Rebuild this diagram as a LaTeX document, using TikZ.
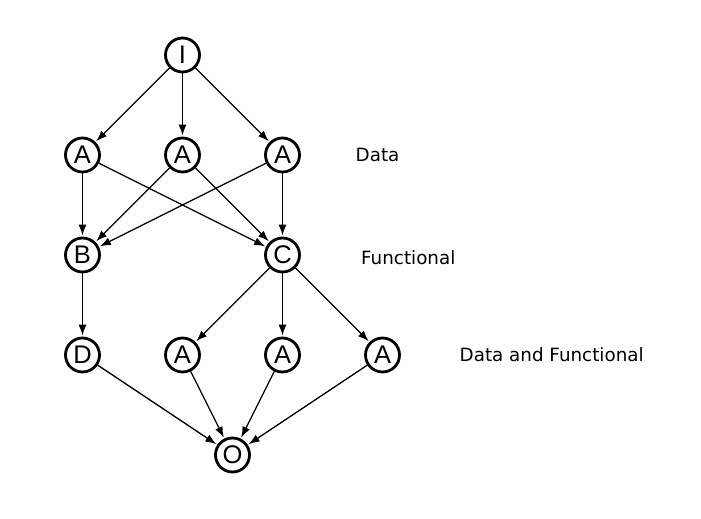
\documentclass[tikz,border=0pt]{standalone}
\usepackage{fontspec}
\setmainfont{DejaVu Sans}
\newfontfamily\nodefont{Liberation Sans}
\usetikzlibrary{arrows.meta}
\begin{document}
\begin{tikzpicture}[x=1pt,y=-1pt,
  vtx/.style={circle,draw,line width=2.8pt,minimum size=34pt,inner sep=0pt,fill=white,font=\nodefont\fontsize{25.5}{25.5}\selectfont},
  lbl/.style={font=\fontsize{18.3}{21}\selectfont,inner sep=0pt},
  edge/.style={line width=1.3pt,-{Latex[length=11pt,width=8pt]},shorten >=1pt}]
\useasboundingbox (0,0) rectangle (701,519);
\node[vtx] (I) at (182.5,55) {I};
\node[vtx] (a1) at (82.5,155) {A};
\node[vtx] (a2) at (182.5,155) {A};
\node[vtx] (a3) at (282.5,155) {A};
\node[vtx] (B) at (82.5,255) {B};
\node[vtx] (C) at (282.5,255) {C};
\node[vtx] (D) at (82.5,355) {D};
\node[vtx] (a4) at (182.5,355) {A};
\node[vtx] (a5) at (282.5,355) {A};
\node[vtx] (a6) at (382.5,355) {A};
\node[vtx] (O) at (232.5,455) {O};
\node[lbl,anchor=west] (l1) at (355.5,155) {Data};
\node[lbl,anchor=west] (l2) at (361,258) {Functional};
\node[lbl,anchor=west] (l3) at (459.5,355) {Data and Functional};
\foreach \s/\t in {I/a1,I/a2,I/a3,a1/B,a1/C,a2/B,a2/C,a3/B,a3/C,B/D,C/a4,C/a5,C/a6,D/O,a4/O,a5/O,a6/O}
  \draw[edge] (\s) -- (\t);
\end{tikzpicture}
\end{document}
